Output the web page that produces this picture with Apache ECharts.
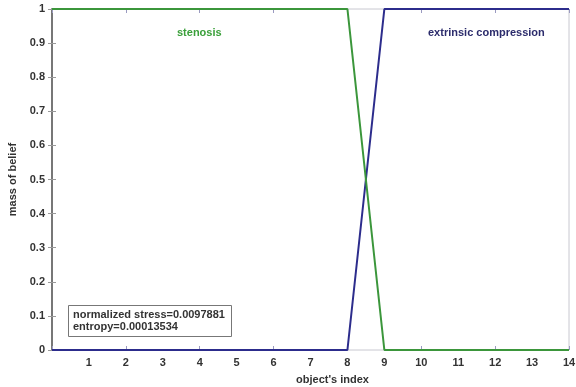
<!DOCTYPE html>
<html>
<head>
<meta charset="utf-8">
<script src="https://cdn.jsdelivr.net/npm/echarts@6/dist/echarts.min.js"></script>
<style>
  html, body { margin: 0; padding: 0; background: #fff; }
  #chart { width: 576px; height: 387px; }
</style>
</head>
<body>
<div id="chart"></div>
<script>
// object's index 0..14
const objectIndex = [0, 1, 2, 3, 4, 5, 6, 7, 8, 9, 10, 11, 12, 13, 14]
// mass of belief per class
const stenosis = [1, 1, 1, 1, 1, 1, 1, 1, 1, 0, 0, 0, 0, 0, 0]
const extrinsic = [0, 0, 0, 0, 0, 0, 0, 0, 0, 1, 1, 1, 1, 1, 1]
const yTicks = [0, 0.1, 0.2, 0.3, 0.4, 0.5, 0.6, 0.7, 0.8, 0.9, 1]
const infoLines = ['normalized stress=0.0097881', 'entropy=0.00013534']

const font = '"Liberation Sans", Arial, sans-serif'
const labelStyle = { fontFamily: font, fontWeight: 'bold', fontSize: 11, color: '#333' }

const chart = echarts.init(document.getElementById('chart'), undefined, { renderer: 'canvas' })

const pairs = (ys) => objectIndex.map((x, i) => [x, ys[i]])

chart.setOption({
  animation: false,
  backgroundColor: '#fff',
  grid: {
    left: 52, right: 7, top: 9, bottom: 37,
    containLabel: false, outerBoundsMode: 'none',
    show: true, borderColor: '#c8c8d0', borderWidth: 1, backgroundColor: '#fff',
  },
  xAxis: [
    {
      type: 'value', min: 0, max: 14, interval: 1,
      name: "object's index", nameLocation: 'middle', nameGap: 24,
      nameTextStyle: { ...labelStyle, padding: [0, 0, 0, 44] },
      axisLine: { show: false },
      axisTick: { show: false },
      splitLine: { show: false },
      axisLabel: { ...labelStyle, margin: 7, formatter: (v) => (v === 0 ? '' : String(v)) },
    },
    {
      type: 'value', min: 0, max: 14, interval: 2, position: 'bottom',
      axisLine: { show: false },
      axisTick: { show: true, inside: true, length: 4, lineStyle: { color: '#9a9ac0' } },
      axisLabel: { show: false }, splitLine: { show: false },
    },
    {
      type: 'value', min: 0, max: 14, interval: 2, position: 'top',
      axisLine: { show: false },
      axisTick: { show: true, inside: true, length: 4, lineStyle: { color: '#9a9ac0' } },
      axisLabel: { show: false }, splitLine: { show: false },
    },
  ],
  yAxis: [
    {
      type: 'value', min: 0, max: 1, interval: 0.1,
      name: 'mass of belief', nameLocation: 'middle', nameGap: 34, nameRotate: 90,
      nameTextStyle: labelStyle,
      axisLine: { show: true, lineStyle: { color: '#777', width: 2 } },
      axisTick: { show: true, inside: true, length: 4, lineStyle: { color: '#999' } },
      splitLine: { show: false },
      axisLabel: {
        ...labelStyle, margin: 7,
        formatter: (v) => {
          const t = yTicks.find((k) => Math.abs(k - v) < 1e-6)
          return t === undefined ? '' : String(t)
        },
      },
    },
    {
      type: 'value', min: 0, max: 1, interval: 0.1, position: 'right',
      axisLine: { show: false },
      axisTick: { show: true, inside: true, length: 4, lineStyle: { color: '#999' } },
      axisLabel: { show: false }, splitLine: { show: false },
    },
  ],
  series: [
    {
      name: 'extrinsic compression', type: 'line', data: pairs(extrinsic),
      symbol: 'none', clip: false,
      lineStyle: { color: '#2c2c8c', width: 2 }, itemStyle: { color: '#2c2c8c' },
    },
    {
      name: 'stenosis', type: 'line', data: pairs(stenosis),
      symbol: 'none', clip: false, z: 3,
      lineStyle: { color: '#3b963b', width: 2 }, itemStyle: { color: '#3b963b' },
    },
  ],
  graphic: [
    {
      type: 'text', left: 177, top: 27,
      style: { text: 'stenosis', fill: '#3ba03b', font: 'bold 11px ' + font },
    },
    {
      type: 'text', left: 428, top: 27,
      style: { text: 'extrinsic compression', fill: '#2c2c6c', font: 'bold 11px ' + font },
    },
    {
      type: 'rect', left: 68, top: 305,
      shape: { width: 163, height: 31 },
      style: { fill: '#fff', stroke: '#777', lineWidth: 1 },
    },
    {
      type: 'text', left: 73, top: 309,
      style: { text: infoLines.join('\n'), fill: '#333', font: 'bold 11px ' + font, lineHeight: 12 },
    },
  ],
})
</script>
</body>
</html>
